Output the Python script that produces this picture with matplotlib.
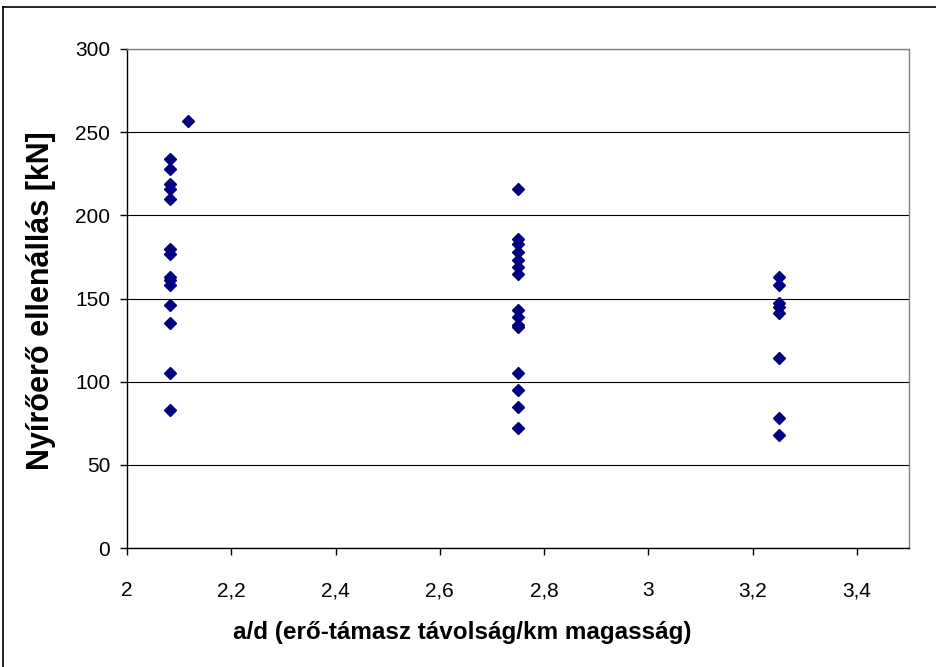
import matplotlib
matplotlib.use("Agg")
import matplotlib.pyplot as plt
from matplotlib.lines import Line2D

# a/d ratio groups and the measured shear resistance values [kN]
ad_group1 = [2.083] * 14
vr_group1 = [234, 228, 219, 216, 210, 180, 177, 163, 161, 158, 146, 135, 105, 83]

ad_extra = [2.117]
vr_extra = [257]

ad_group2 = [2.75] * 15
vr_group2 = [216, 186, 183, 178, 173, 169, 165, 143, 139, 134, 133, 105, 95, 85, 72]

ad_group3 = [3.25] * 8
vr_group3 = [163, 158, 147, 145, 141, 114, 78, 68]

x_ticks = [2.0, 2.2, 2.4, 2.6, 2.8, 3.0, 3.2, 3.4]
x_tick_labels = ["2", "2,2", "2,4", "2,6", "2,8", "3", "3,2", "3,4"]
y_ticks = [0, 50, 100, 150, 200, 250, 300]

plt.rcParams["font.family"] = ["Liberation Sans", "DejaVu Sans"]

W, H = 937, 667
fig = plt.figure(figsize=(W / 100, H / 100), dpi=100)
ax = fig.add_axes([127 / W, 1 - 548 / H, (909 - 127) / W, (548 - 49) / H])

xs = ad_group1 + ad_extra + ad_group2 + ad_group3
ys = vr_group1 + vr_extra + vr_group2 + vr_group3
ax.plot(xs, ys, linestyle="none", marker="D", markersize=5.8,
        color="#000080", markeredgecolor="#000080", zorder=3)

ax.set_xlim(2.0, 3.5)
ax.set_ylim(0, 300)
ax.set_xticks(x_ticks)
ax.set_xticklabels(x_tick_labels)
ax.set_yticks(y_ticks)

ax.yaxis.grid(True, color="black", linewidth=0.8)
ax.set_axisbelow(True)

for side in ("top", "right"):
    ax.spines[side].set_color("#808080")
    ax.spines[side].set_linewidth(1.0)
for side in ("left", "bottom"):
    ax.spines[side].set_color("black")
    ax.spines[side].set_linewidth(1.0)

ax.tick_params(axis="both", direction="out", length=5, width=1,
               labelsize=15, color="black")
ax.tick_params(axis="x", pad=19)
ax.tick_params(axis="y", pad=7)

fig.text(462 / W, 1 - 632 / H, "a/d (erő-támasz távolság/km magasság)",
         fontsize=17.5, fontweight="bold", ha="center", va="center")
fig.text(41 / W, 1 - 301 / H, "Nyírőerő ellenállás [kN]",
         fontsize=22, fontweight="bold", ha="center", va="center",
         rotation=90)

# outer chart frame (top and left edges visible)
fig.add_artist(Line2D([3 / W, 1.0], [1 - 7 / H, 1 - 7 / H],
                      transform=fig.transFigure, color="black", linewidth=1.2))
fig.add_artist(Line2D([3 / W, 3 / W], [0.0, 1 - 7 / H],
                      transform=fig.transFigure, color="black", linewidth=1.2))

fig.savefig("out.png", dpi=100)
